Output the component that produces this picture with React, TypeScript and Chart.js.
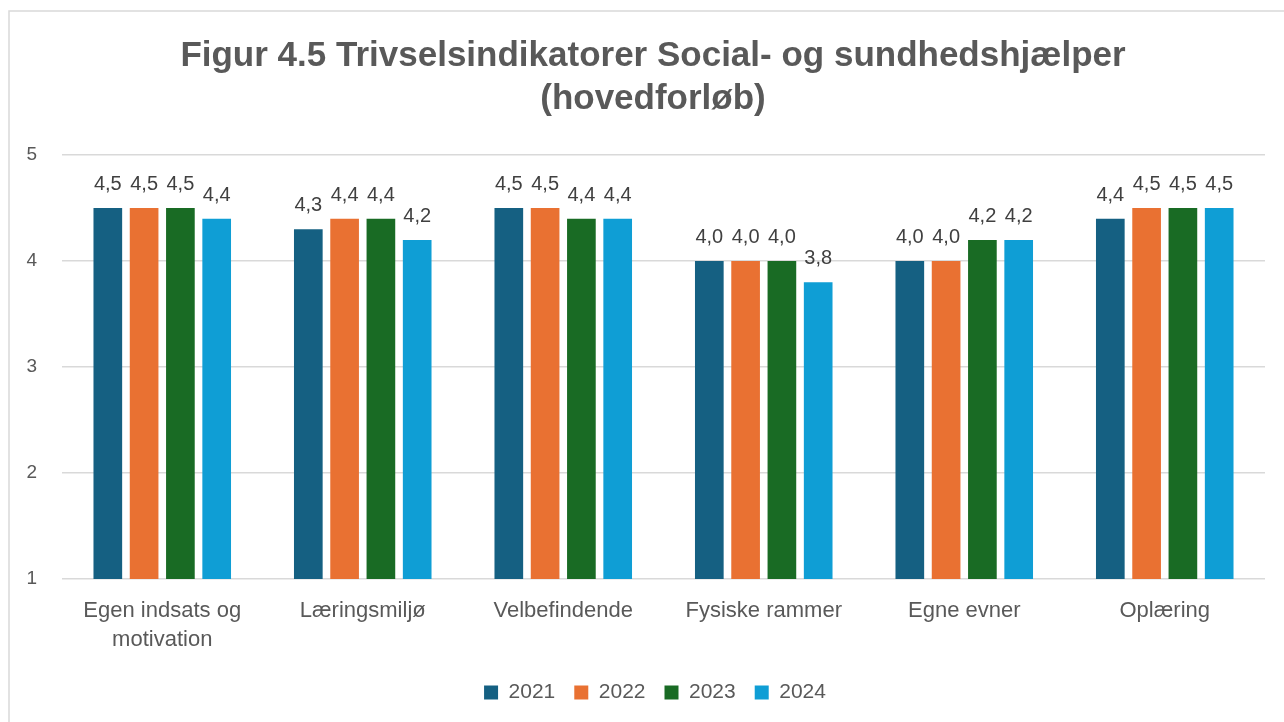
import React, { useEffect, useRef } from "react";
import { Chart, registerables } from "chart.js";

Chart.register(...registerables);

const categories: (string | string[])[] = [
  ["Egen indsats og", "motivation"],
  "Læringsmiljø",
  "Velbefindende",
  "Fysiske rammer",
  "Egne evner",
  "Oplæring",
];
const seriesNames = ["2021", "2022", "2023", "2024"];
const values2021 = [4.5, 4.3, 4.5, 4.0, 4.0, 4.4];
const values2022 = [4.5, 4.4, 4.5, 4.0, 4.0, 4.5];
const values2023 = [4.5, 4.4, 4.4, 4.0, 4.2, 4.5];
const values2024 = [4.4, 4.2, 4.4, 3.8, 4.2, 4.5];
const seriesColors = ["#156082", "#E97132", "#196B24", "#0F9ED5"];
const titleLines = ["Figur 4.5 Trivselsindikatorer Social- og sundhedshjælper", "(hovedforløb)"];
const yMin = 1;
const yMax = 5;

const FONT = "'Liberation Sans', Arial, sans-serif";
const TEXT = "#595959";

const frameAndLabels = {
  id: "frameAndLabels",
  afterLayout(chart: any) {
    // Center title and legend on the full frame like the original
    if (chart.titleBlock) {
      chart.titleBlock.left += 8;
      chart.titleBlock.right += 8;
    }
    if (chart.legend) {
      chart.legend.left += 10;
      chart.legend.right += 10;
    }
  },
  beforeDraw(chart: any) {
    const ctx = chart.ctx;
    ctx.save();
    ctx.fillStyle = "#ffffff";
    ctx.fillRect(0, 0, chart.width, chart.height);
    ctx.strokeStyle = "#d9d9d9";
    ctx.lineWidth = 1.5;
    ctx.beginPath();
    ctx.moveTo(9, chart.height);
    ctx.lineTo(9, 11);
    ctx.lineTo(chart.width, 11);
    ctx.stroke();
    ctx.restore();
  },
  afterDatasetsDraw(chart: any) {
    const ctx = chart.ctx;
    ctx.save();
    ctx.font = `20px ${FONT}`;
    ctx.fillStyle = "#404040";
    ctx.textAlign = "center";
    ctx.textBaseline = "alphabetic";
    chart.data.datasets.forEach((ds: any, i: number) => {
      const meta = chart.getDatasetMeta(i);
      meta.data.forEach((bar: any, j: number) => {
        const v = ds.data[j] as number;
        const txt = v.toFixed(1).replace(".", ",");
        ctx.fillText(txt, bar.x, bar.y - 18);
      });
    });
    ctx.restore();
  },
};

export default function App() {
  const ref = useRef<HTMLCanvasElement>(null);
  useEffect(() => {
    if (!ref.current) return;
    const all = [values2021, values2022, values2023, values2024];
    const chart = new Chart(ref.current, {
      type: "bar",
      data: {
        labels: categories,
        datasets: all.map((d, i) => ({
          label: seriesNames[i],
          data: d,
          backgroundColor: seriesColors[i],
          borderWidth: 0,
          categoryPercentage: 0.724,
          barPercentage: 0.79,
        })),
      },
      options: {
        animation: false,
        responsive: false,
        maintainAspectRatio: false,
        layout: { padding: { left: 25, right: 19, top: 0, bottom: 9 } },
        plugins: {
          title: {
            display: true,
            text: titleLines,
            color: TEXT,
            font: { family: FONT, size: 35, weight: "bold", lineHeight: 1.23 },
            padding: { top: 35, bottom: 34 },
          },
          legend: {
            display: true,
            position: "bottom",
            labels: {
              color: TEXT,
              font: { family: FONT, size: 21 },
              boxWidth: 14,
              boxHeight: 14,
              padding: 19,
            },
          },
          tooltip: { enabled: false },
        },
        scales: {
          x: {
            grid: { display: false },
            border: { display: false },
            ticks: {
              color: TEXT,
              font: { family: FONT, size: 22, lineHeight: 1.32 },
              padding: 9,
              maxRotation: 0,
              autoSkip: false,
            },
            afterFit(scale: any) {
              scale.height = 84;
            },
          },
          y: {
            min: yMin,
            max: yMax,
            grid: { color: "#d9d9d9", lineWidth: 1.5, drawTicks: false },
            border: { display: false },
            ticks: {
              stepSize: 1,
              color: TEXT,
              font: { family: FONT, size: 19 },
              padding: 25,
            },
            afterFit(scale: any) {
              scale.width = 37;
            },
          },
        },
      },
      plugins: [frameAndLabels],
    });
    return () => chart.destroy();
  }, []);
  return (
    <div style={{ position: "fixed", left: 0, top: 0, width: 1284, height: 722 }}>
      <canvas ref={ref} width={1284} height={722} style={{ width: 1284, height: 722, display: "block" }} />
    </div>
  );
}
